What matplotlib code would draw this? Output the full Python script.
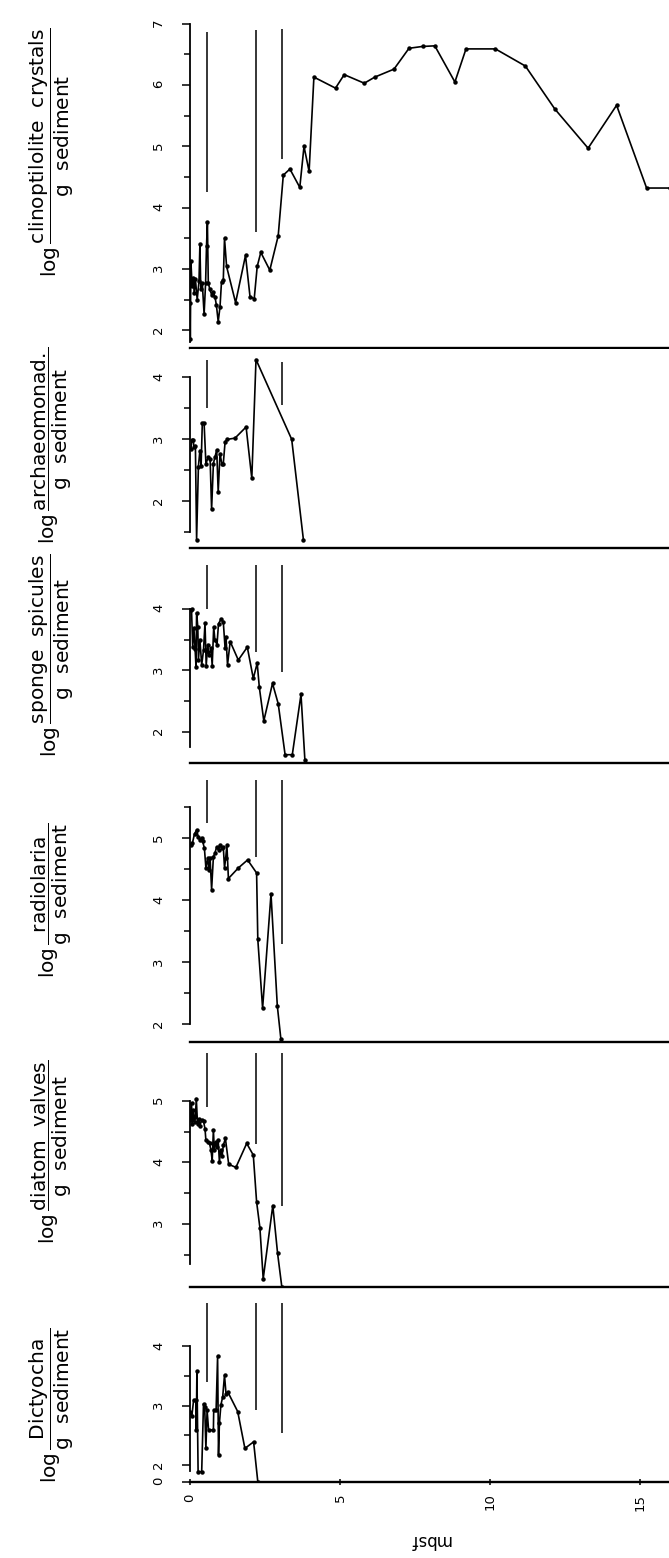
import matplotlib
matplotlib.use('Agg')
import matplotlib.pyplot as plt

# depth in mbsf, values are log(count / g sediment)
clino_depth = [0.0, 0.01, 0.03, 0.07, 0.11, 0.14, 0.18, 0.24, 0.30, 0.33,
               0.36, 0.41, 0.47, 0.52, 0.55, 0.58, 0.61, 0.66, 0.72, 0.77,
               0.83, 0.88, 0.94, 1.00, 1.05, 1.11, 1.15, 1.22, 1.52, 1.85,
               2.00, 2.14, 2.24, 2.36, 2.66, 2.94, 3.11, 3.33, 3.66, 3.80,
               3.97, 4.13, 4.85, 5.14, 5.81, 6.16, 6.80, 7.30, 7.75, 8.16,
               8.83, 9.20, 10.18, 11.18, 12.16, 13.27, 14.22, 15.22, 16.0]
clino = [2.45, 1.85, 3.13, 2.72, 2.86, 2.61, 2.83, 2.50, 2.80, 3.40,
         2.67, 2.77, 2.26, 2.77, 3.37, 3.76, 2.77, 2.67, 2.58, 2.63,
         2.55, 2.41, 2.14, 2.38, 2.79, 2.82, 3.50, 3.04, 2.45, 3.22,
         2.55, 2.51, 3.04, 3.27, 2.98, 3.54, 4.53, 4.63, 4.33, 5.00,
         4.59, 6.13, 5.95, 6.17, 6.03, 6.13, 6.26, 6.60, 6.63, 6.64,
         6.05, 6.59, 6.59, 6.31, 5.61, 4.97, 5.67, 4.32, 4.32]

arch_depth = [0.03, 0.06, 0.11, 0.13, 0.18, 0.22, 0.28, 0.33, 0.37, 0.41,
              0.47, 0.53, 0.61, 0.67, 0.72, 0.78, 0.83, 0.89, 0.94, 1.00,
              1.06, 1.11, 1.17, 1.24, 1.50, 1.87, 2.06, 2.20, 3.39, 3.78]
arch = [2.84, 2.99, 2.99, 2.87, 2.90, 1.38, 2.56, 2.82, 2.57, 3.26,
        3.26, 2.61, 2.71, 2.69, 1.87, 2.61, 2.71, 2.83, 2.15, 2.77,
        2.61, 2.61, 2.96, 3.00, 3.02, 3.20, 2.37, 4.29, 3.00, 1.38]

sponge_depth = [0.02, 0.05, 0.09, 0.13, 0.17, 0.20, 0.22, 0.26, 0.28, 0.33,
                0.39, 0.45, 0.50, 0.54, 0.59, 0.63, 0.70, 0.74, 0.79, 0.83,
                0.90, 0.95, 1.04, 1.11, 1.17, 1.20, 1.25, 1.34, 1.61, 1.91,
                2.11, 2.24, 2.31, 2.46, 2.75, 2.94, 3.17, 3.41, 3.70, 3.83]
sponge = [3.98, 4.00, 3.38, 3.69, 3.35, 3.06, 3.94, 3.71, 3.17, 3.50,
          3.09, 3.33, 3.77, 3.08, 3.42, 3.25, 3.36, 3.08, 3.71, 3.50,
          3.42, 3.76, 3.84, 3.79, 3.36, 3.55, 3.09, 3.47, 3.17, 3.38,
          2.87, 3.12, 2.73, 2.18, 2.79, 2.46, 1.63, 1.63, 2.61, 1.54]

rad_depth = [0.02, 0.08, 0.15, 0.22, 0.28, 0.33, 0.39, 0.42, 0.48, 0.53,
             0.59, 0.63, 0.67, 0.72, 0.78, 0.83, 0.89, 0.95, 1.00, 1.06,
             1.11, 1.15, 1.19, 1.23, 1.28, 1.61, 1.92, 2.22, 2.26, 2.42,
             2.70, 2.91, 3.03]
rad = [4.89, 4.92, 5.07, 5.13, 5.02, 4.97, 5.01, 4.95, 4.84, 4.52,
       4.68, 4.49, 4.68, 4.17, 4.70, 4.76, 4.86, 4.81, 4.89, 4.84,
       4.86, 4.52, 4.68, 4.89, 4.35, 4.52, 4.65, 4.44, 3.37, 2.26,
       4.10, 2.30, 1.76]

diatom_depth = [0.01, 0.05, 0.08, 0.11, 0.15, 0.18, 0.21, 0.25, 0.29, 0.33,
                0.39, 0.45, 0.50, 0.53, 0.59, 0.65, 0.70, 0.74, 0.78, 0.81,
                0.85, 0.89, 0.94, 0.98, 1.02, 1.07, 1.11, 1.18, 1.29, 1.53,
                1.89, 2.11, 2.22, 2.33, 2.44, 2.76, 2.92, 3.06]
diatom = [4.69, 4.96, 4.63, 4.85, 4.66, 4.74, 5.04, 4.63, 4.71, 4.60,
          4.69, 4.67, 4.55, 4.36, 4.33, 4.31, 4.20, 4.03, 4.53, 4.20,
          4.33, 4.25, 4.36, 4.01, 4.20, 4.10, 4.28, 4.39, 3.97, 3.92,
          4.31, 4.12, 3.36, 2.94, 2.11, 3.30, 2.52, 1.98]

dict_depth = [0.01, 0.06, 0.12, 0.20, 0.21, 0.23, 0.27, 0.39, 0.45, 0.49,
              0.53, 0.57, 0.62, 0.78, 0.79, 0.87, 0.92, 0.95, 0.98, 1.03,
              1.09, 1.15, 1.20, 1.26, 1.59, 1.83, 2.12, 2.26]
dictyocha = [2.90, 2.82, 3.09, 3.09, 2.59, 3.58, 1.89, 1.89, 3.03, 2.98,
             2.28, 2.92, 2.59, 2.59, 2.92, 2.92, 3.83, 2.17, 2.70, 3.01,
             3.15, 3.51, 3.20, 3.23, 2.90, 2.28, 2.39, 1.72]

# unit boundaries (mbsf) drawn as vertical bars in every panel
boundaries = [0.55, 2.2, 3.05]

names = ['clinoptilolite\\ \\ crystals', 'archaeomonad.', 'sponge\\ \\ spicules',
         'radiolaria', 'diatom\\ \\ valves', 'Dictyocha']

W, H = 669, 1558
X0, X1 = 190, 669
XSCALE = 30.0  # px per mbsf


def main():
    fig = plt.figure(figsize=(W / 100, H / 100), dpi=100)
    xmax = (X1 - X0) / XSCALE

    # top px, bottom px, ylim, major, minor, spine bounds, bar tops, bar bottoms, label y px
    panels = [
        (clino_depth, clino, 6, 348, (1.71, 7.29), [2, 3, 4, 5, 6, 7],
         [2.5, 3.5, 4.5, 5.5, 6.5], (1.81, 7), [6.87, 6.9, 6.92], [4.25, 3.6, 4.8], 152),
        (arch_depth, arch, 349, 547.7, (1.25, 4.46), [2, 3, 4],
         [1.5, 2.5, 3.5], (1.5, 4), [4.28, None, 4.25], [3.5, None, 3.55], 445),
        (sponge_depth, sponge, 550, 762.7, (1.5, 4.96), [2, 3, 4],
         [2.5, 3.5], (1.75, 4), [4.72, 4.72, 4.72], [4.0, 3.3, 2.97], 655),
        (rad_depth, rad, 765, 1041.7, (1.72, 6.18), [2, 3, 4, 5],
         [2.5, 3.5, 4.5, 5.5], (2, 5.5), [5.94, 5.94, 5.94], [5.25, 4.7, 3.3], 900),
        (diatom_depth, diatom, 1045, 1286.7, (1.98, 5.91), [3, 4, 5],
         [2.5, 3.5, 4.5], (2.35, 5), [5.78, 5.78, 5.78], [4.9, 4.3, 3.3], 1152),
        (dict_depth, dictyocha, 1295, 1481.7, (1.72, 4.86), [1.72, 2, 3, 4],
         [2.5, 3.5], (1.9, 4), [4.72, 4.72, 4.72], [3.4, 2.93, 2.54], 1405),
    ]

    for i, p in enumerate(panels):
        depth, vals, top, bot, ylim, major, minor, bounds, btop, bbot, ly = p
        ax = fig.add_axes([X0 / W, 1 - bot / H, (X1 - X0) / W, (bot - top) / H])
        ax.set_xlim(0, xmax)
        ax.set_ylim(*ylim)
        ax.plot(depth, vals, '-', color='k', lw=1.2, marker='o', ms=2.2)
        for xb, y0, y1 in zip(boundaries, btop, bbot):
            if y0 is None:
                continue
            ax.vlines(xb, y1, y0, color='k', lw=1.1)

        ax.spines['top'].set_visible(False)
        ax.spines['right'].set_visible(False)
        ax.spines['left'].set_bounds(*bounds)
        ax.spines['left'].set_linewidth(1.3)
        ax.spines['bottom'].set_linewidth(1.7)

        ax.set_yticks(major)
        if i == 5:
            ax.set_yticklabels(['0', '2', '3', '4'])
        ax.set_yticks(minor, minor=True)
        ax.tick_params(axis='y', which='major', direction='out', length=6,
                       width=1.1, labelsize=9.5, labelrotation=90, pad=12)
        ax.tick_params(axis='y', which='minor', direction='out', length=4, width=1.1)

        if i < 5:
            ax.tick_params(axis='x', bottom=False, labelbottom=False)
        else:
            ax.set_xticks([0, 5, 10, 15])
            ax.tick_params(axis='x', direction='inout', length=5, width=1.1,
                           labelsize=9.5, labelrotation=90, pad=6)

        label = (r'$\mathrm{log}\,\dfrac{\mathrm{%s}}{\mathrm{g\ \ sediment}}$'
                 % names[i])
        fig.text(52 / W, 1 - ly / H, label, rotation=90, ha='center',
                 va='center', fontsize=14.5)

    fig.text(430 / W, 1 - 1540 / H, 'mbsf', rotation=180, ha='center',
             va='center', fontsize=12)

    fig.savefig('out.png', dpi=100)


if __name__ == "__main__":
    main()
